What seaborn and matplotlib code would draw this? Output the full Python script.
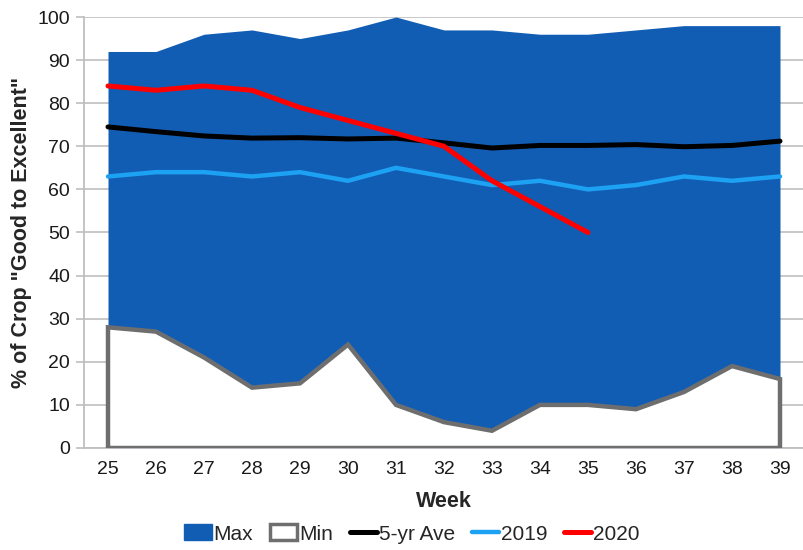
import matplotlib
matplotlib.use("Agg")
import matplotlib.pyplot as plt
import numpy as np
import pandas as pd
import seaborn as sns
from matplotlib.patches import Patch
from matplotlib.lines import Line2D

weeks = [25, 26, 27, 28, 29, 30, 31, 32, 33, 34, 35, 36, 37, 38, 39]
max_vals = [92, 92, 96, 97, 95, 97, 100, 97, 97, 96, 96, 97, 98, 98, 98]
min_vals = [28, 27, 21, 14, 15, 24, 10, 6, 4, 10, 10, 9, 13, 19, 16]
ave_5yr = [74.5, 73.4, 72.4, 71.9, 72.0, 71.7, 71.9, 70.8, 69.6, 70.2, 70.2, 70.4, 69.9, 70.2, 71.2]
y2019 = [63, 64, 64, 63, 64, 62, 65, 63, 61, 62, 60, 61, 63, 62, 63]
weeks_2020 = [25, 26, 27, 28, 29, 30, 31, 32, 33, 34, 35]
y2020 = [84, 83, 84, 83, 79, 76, 73, 70, 62, 56, 50]

BLUE = "#125DB4"
GREY = "#6E6E6E"
LIGHT = "#1DA1F2"
RED = "#FF0000"

sns.set_theme(style="white")
plt.rcParams["font.family"] = ["Liberation Sans", "DejaVu Sans"]

df = pd.DataFrame({"week": weeks, "max": max_vals, "min": min_vals,
                   "ave": ave_5yr, "y2019": y2019})
df20 = pd.DataFrame({"week": weeks_2020, "y2020": y2020})

fig = plt.figure(figsize=(8.04, 5.5), dpi=100)
ax = fig.add_axes([84 / 804, 102 / 550, 720 / 804, 431 / 550])

# horizontal gridlines behind the data
ax.set_axisbelow(True)
ax.yaxis.grid(True, color="#C4C4C4", linewidth=1.3)

# Max range as a filled area, Min as a white area with grey outline on top
ax.fill_between(df["week"], 0, df["max"], color=BLUE, linewidth=0, zorder=2)
ax.fill_between(df["week"], 0, df["min"], facecolor="white", edgecolor="none", zorder=3)
outline_x = [weeks[0]] + weeks + [weeks[-1], weeks[0]]
outline_y = [0] + min_vals + [0, 0]
ax.plot(outline_x, outline_y, color=GREY, linewidth=3.2, solid_joinstyle="miter", zorder=4)

sns.lineplot(data=df, x="week", y="ave", color="black", linewidth=3.6, ax=ax, zorder=5)
sns.lineplot(data=df, x="week", y="y2019", color=LIGHT, linewidth=3.2, ax=ax, zorder=5)
sns.lineplot(data=df20, x="week", y="y2020", color=RED, linewidth=3.6, ax=ax, zorder=6)

ax.set_xlim(24.5, 39.5)
ax.set_ylim(0, 100)
ax.set_yticks(range(0, 101, 10))
ax.set_xticks(weeks)
ax.set_xticks(np.arange(24.5, 40, 1), minor=True)
ax.tick_params(axis="x", which="major", length=0, labelsize=14, pad=9, colors="#1a1a1a")
ax.tick_params(axis="x", which="minor", length=6, width=1.2, color="#BFBFBF", direction="out")
ax.tick_params(axis="y", length=6, width=1.2, color="#BFBFBF", labelsize=14, pad=4,
               direction="out", left=True, labelcolor="#1a1a1a")

for side in ["top", "right"]:
    ax.spines[side].set_visible(False)
for side in ["left", "bottom"]:
    ax.spines[side].set_color("#BFBFBF")
    ax.spines[side].set_linewidth(1.3)

ax.set_xlabel("Week", fontsize=15.5, fontweight="bold", labelpad=10)
ax.set_ylabel('% of Crop "Good to Excellent"', fontsize=15.5, fontweight="bold", labelpad=4)

handles = [
    Patch(facecolor=BLUE, edgecolor=BLUE),
    Patch(facecolor="white", edgecolor=GREY, linewidth=2.5),
    Line2D([0], [0], color="black", linewidth=3.6),
    Line2D([0], [0], color=LIGHT, linewidth=3.2),
    Line2D([0], [0], color=RED, linewidth=3.6),
]
labels = ["Max", "Min", "5-yr Ave", "2019", "2020"]
fig.legend(handles, labels, loc="center", bbox_to_anchor=(412 / 804, 1 - 534 / 550),
           ncol=5, frameon=False, fontsize=15, handlelength=1.3, handletextpad=0.1,
           columnspacing=0.8, handleheight=0.8)

fig.savefig("out.png", dpi=100)
